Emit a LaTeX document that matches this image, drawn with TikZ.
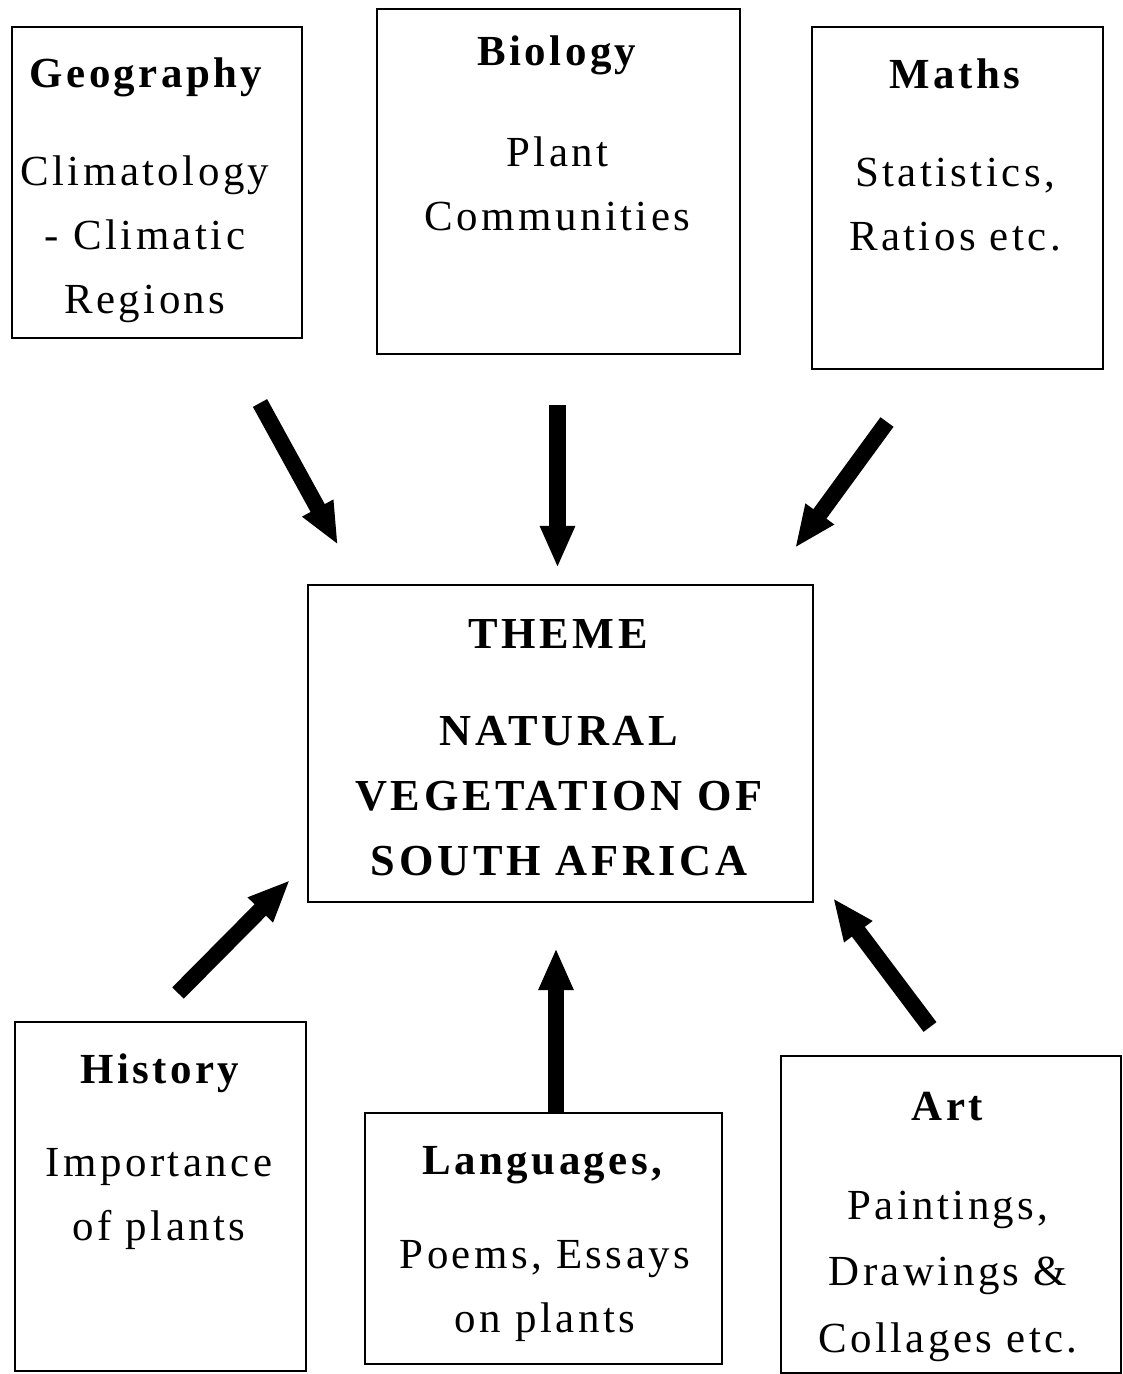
\documentclass[tikz,border=0pt]{standalone}
\usepackage{fontspec}
\setmainfont{Liberation Serif}[LetterSpace=8]
\usetikzlibrary{arrows.meta}

\tikzset{
  subject/.style={draw, line width=1.4pt, inner sep=0pt},
  title/.style={anchor=base, inner sep=0pt, font=\fontsize{30.5}{45.5}\selectfont\bfseries},
  body/.style={anchor=base, inner sep=0pt, align=center, font=\fontsize{30.5}{45.5}\selectfont},
  themefont/.style={font=\fontsize{31.5}{46}\selectfont\bfseries\addfontfeature{LetterSpace=8.5}},
  bigarrow/.style={line width=11.5pt, -{Triangle[length=30pt, width=23pt]}}
}

\begin{document}
\begin{tikzpicture}[x=0.025cm, y=-0.025cm]
  \useasboundingbox (0,0) rectangle (1123,1374);

  % the subject boxes
  \node[subject, minimum width=7.25cm, minimum height=7.775cm] (geo) at (157,182.5) {};
  \node[subject, minimum width=9.075cm, minimum height=8.625cm] (bio) at (558.5,181.5) {};
  \node[subject, minimum width=7.275cm, minimum height=8.55cm] (maths) at (957.5,198) {};
  \node[subject, minimum width=12.625cm, minimum height=7.925cm] (theme) at (560.5,743.5) {};
  \node[subject, minimum width=7.275cm, minimum height=8.725cm] (hist) at (160.5,1196.5) {};
  \node[subject, minimum width=8.925cm, minimum height=6.275cm] (lang) at (543.5,1238.5) {};
  \node[subject, minimum width=8.5cm, minimum height=7.925cm] (art) at (951,1214.5) {};

  % the texts (body nodes sit on the baseline of their last line)
  \node[title] (geotitle) at (146,87) {Geography};
  \node[body] (geotext) at (145,313) {Climatology\\- Climatic\\Regions};
  \node[title] (biotitle) at (557,65) {Biology};
  \node[body] (biotext) at (557.5,230) {Plant\\Communities};
  \node[title] (mathstitle) at (955,88) {Maths};
  \node[body] (mathstext) at (955,250) {Statistics,\\Ratios etc.};
  \node[title, themefont] (themetitle) at (558,648) {THEME};
  \node[body, themefont] (themetext) at (559,875) {NATURAL\\VEGETATION OF\\SOUTH AFRICA};
  \node[title] (histtitle) at (160,1083) {History};
  \node[body] (histtext) at (159,1240) {Importance\\of plants};
  \node[title] (langtitle) at (542.5,1174) {Languages,};
  \node[body] (langtext) at (545,1332) {Poems, Essays\\on plants};
  \node[title] (arttitle) at (947.5,1120) {Art};
  \node[body, font=\fontsize{30.5}{47}\selectfont] (arttext) at (948,1352) {Paintings,\\Drawings \&\\Collages etc.};

  % the arrows
  \coordinate (geotail) at (260,403);   \coordinate (geotip) at (338,545);
  \coordinate (biotail) at (557.5,405); \coordinate (biotip) at (557.5,568);
  \coordinate (mathstail) at (887,422); \coordinate (mathstip) at (795,548);
  \coordinate (histtail) at (178,993);  \coordinate (histtip) at (290,880);
  \coordinate (langtip) at (556,948);
  \coordinate (arttail) at (930,1027);  \coordinate (arttip) at (833,898);
  \draw[bigarrow] (geotail) -- (geotip);
  \draw[bigarrow] (biotail) -- (biotip);
  \draw[bigarrow] (mathstail) -- (mathstip);
  \draw[bigarrow] (histtail) -- (histtip);
  \draw[bigarrow] (lang.north -| langtip) -- (langtip);
  \draw[bigarrow] (arttail) -- (arttip);
\end{tikzpicture}
\end{document}
